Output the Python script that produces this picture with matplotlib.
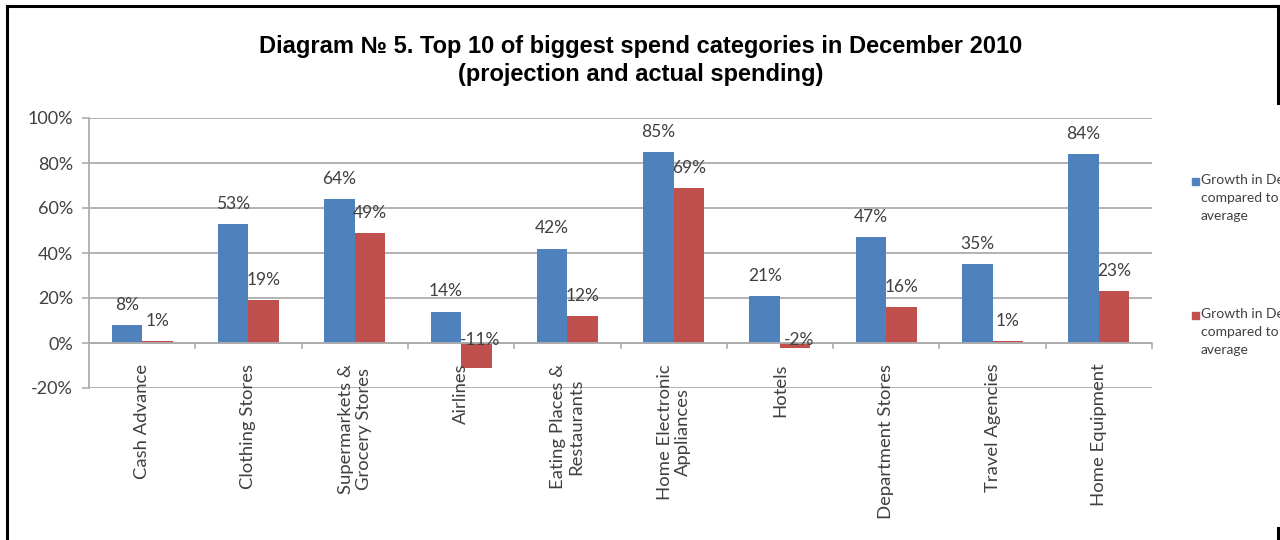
import matplotlib
matplotlib.use("Agg")
import matplotlib.pyplot as plt
from matplotlib.lines import Line2D
from matplotlib.patches import Rectangle
import numpy as np

categories = [
    "Cash Advance", "Clothing Stores", "Supermarkets &\nGrocery Stores", "Airlines",
    "Eating Places &\nRestaurants", "Home Electronic\nAppliances", "Hotels",
    "Department Stores", "Travel Agencies", "Home Equipment",
]
projection = [8, 53, 64, 14, 42, 85, 21, 47, 35, 84]
actual = [1, 19, 49, -11, 12, 69, -2, 16, 1, 23]
y_ticks = [-20, 0, 20, 40, 60, 80, 100]
series_names = ["Growth in Dec.\ncompared to year\naverage",
                "Growth in Dec.\ncompared to year\naverage"]

BLUE = "#4F81BD"
RED = "#C0504D"
GRID = "#ADADAD"
TEXT = "#404040"
FONT = "Lato"

W, H = 1280, 540
fig = plt.figure(figsize=(W / 100, H / 100), dpi=100)
fig.patch.set_facecolor("white")

def fx(px):
    return px / W

def fy(py):
    return 1 - py / H

ax = fig.add_axes([fx(89), fy(388), fx(1152) - fx(89), fy(118) - fy(388)])

x = np.arange(len(categories))
bw = 0.287
ax.bar(x - bw / 2, projection, bw, color=BLUE, zorder=3)
ax.bar(x + bw / 2, actual, bw, color=RED, zorder=3)

ax.set_xlim(-0.5, len(categories) - 0.5)
ax.set_ylim(-20, 100)
ax.set_yticks(y_ticks)
ax.set_yticklabels([f"{v}%" for v in y_ticks], fontfamily=FONT, fontsize=13, color=TEXT)
ax.tick_params(axis="y", length=5, color=GRID, width=1.2, pad=6.5)
ax.yaxis.grid(True, color=GRID, linewidth=1.3, zorder=0)
ax.set_xticks([])
for s in ["top", "right", "bottom"]:
    ax.spines[s].set_visible(False)
ax.spines["left"].set_color(GRID)
ax.spines["left"].set_linewidth(1.3)

# category axis along the zero line, with boundary ticks
ax.axhline(0, color=GRID, linewidth=1.3, zorder=4)
for b in np.arange(0.5, len(categories), 1.0):
    ax.plot([b, b], [0, -2.4], color=GRID, linewidth=1.2, zorder=4, clip_on=False)

# category names, rotated, hanging below the zero line
for xi, name in zip(x, categories):
    ax.annotate(name, xy=(xi, 0), xytext=(0, -15), textcoords="offset points",
                rotation=90, ha="center", va="top", multialignment="center",
                fontfamily=FONT, fontsize=13.3, color=TEXT, zorder=5, linespacing=1.15)

# value labels
for xi, v in zip(x, projection):
    ax.annotate(f"{v}%", xy=(xi - bw / 2, max(v, 0)), xytext=(0, 14.5),
                textcoords="offset points", ha="center", va="center",
                fontfamily=FONT, fontsize=12.5, color=TEXT, zorder=6)
for xi, v in zip(x, actual):
    off = 14.5 if v >= 0 else 2
    ax.annotate(f"{v}%", xy=(xi + bw / 2, max(v, 0)), xytext=(3 if v < 0 else 0, off),
                textcoords="offset points", ha="center", va="center",
                fontfamily=FONT, fontsize=12.5, color=TEXT, zorder=6)

# title
fig.text(fx(641), fy(47), "Diagram № 5. Top 10 of biggest spend categories in December 2010",
         ha="center", va="center", fontfamily="Liberation Sans", fontweight="bold",
         fontsize=17, color="black")
fig.text(fx(641), fy(75), "(projection and actual spending)",
         ha="center", va="center", fontfamily="Liberation Sans", fontweight="bold",
         fontsize=17, color="black")

# legend
for (ymid, color, label) in [(181, BLUE, series_names[0]), (315, RED, series_names[1])]:
    fig.patches.append(Rectangle((fx(1192), fy(ymid + 4)), fx(7), 7 / H,
                                 transform=fig.transFigure, color=color))
    fig.text(fx(1201), fy(ymid - 7), label, ha="left", va="top",
             fontfamily=FONT, fontsize=10, color=TEXT, linespacing=1.62)

# frame lines around the figure
frame = dict(color="black", linewidth=2.2, transform=fig.transFigure)
fig.add_artist(Line2D([fx(7), fx(7)], [0, fy(6)], **frame))
fig.add_artist(Line2D([fx(7), fx(1279)], [fy(6), fy(6)], **frame))
fig.add_artist(Line2D([fx(1278), fx(1278)], [fy(6), fy(103)], **frame))
fig.add_artist(Line2D([fx(1278), fx(1278)], [fy(528), 0], **frame))

fig.savefig("out.png", dpi=100)
